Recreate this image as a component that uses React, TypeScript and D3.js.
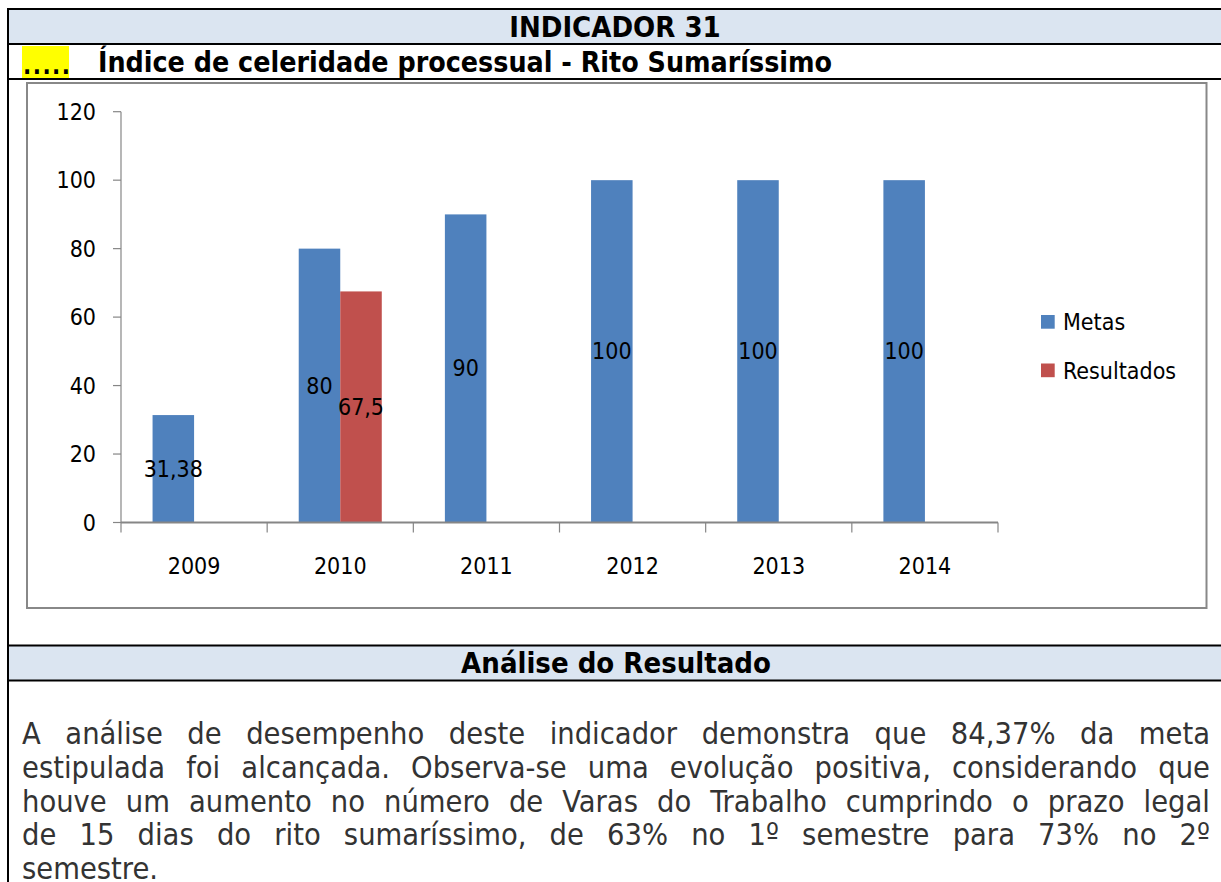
import React, { useMemo } from "react";
import * as d3 from "d3";

const years = ["2009", "2010", "2011", "2012", "2013", "2014"];
const seriesNames = ["Metas", "Resultados"];
const metas: (number | null)[] = [31.38, 80, 90, 100, 100, 100];
const resultados: (number | null)[] = [null, 67.5, null, null, null, null];
const yTicks = [0, 20, 40, 60, 80, 100, 120];
const seriesColors = ["#4F81BD", "#C0504D"];

const headerTitle = "INDICADOR 31";
const subtitle = "Índice de celeridade processual - Rito Sumaríssimo";
const sectionTitle = "Análise do Resultado";
const paragraphLines = [
  "A análise de desempenho deste indicador demonstra que 84,37% da meta",
  "estipulada foi alcançada. Observa-se uma evolução positiva, considerando que",
  "houve um aumento no número de Varas do Trabalho cumprindo o prazo legal",
  "de 15 dias do rito sumaríssimo, de 63% no 1º semestre para 73% no 2º",
  "semestre.",
];

const FONT = "'DejaVu Sans Condensed', 'DejaVu Sans', sans-serif";

const fmt = (v: number) => String(v).replace(".", ",");

export default function App() {
  const W = 1221;
  const H = 882;

  // chart geometry
  const plotLeft = 121;
  const plotRight = 998;
  const plotTop = 111.7;
  const plotBottom = 522.5;

  const x0 = d3.scaleBand<string>().domain(years).range([plotLeft, plotRight]).paddingInner(0).paddingOuter(0);
  const x1 = d3
    .scaleBand<string>()
    .domain(seriesNames)
    .range([0, x0.bandwidth()])
    .paddingInner(0)
    .paddingOuter(0.76);
  const y = d3.scaleLinear().domain([0, 120]).range([plotBottom, plotTop]);

  const seriesValues = [metas, resultados];

  const paraFontSize = 30.5;
  const paraLeft = 22;
  const paraRight = 1210;
  const paraBaseline0 = 744;
  const paraLineH = 33.8;

  const lines = useMemo(() => {
    const canvas = document.createElement("canvas");
    const ctx = canvas.getContext("2d")!;
    ctx.font = `${paraFontSize}px ${FONT}`;
    const spaceW = ctx.measureText(" ").width;
    return paragraphLines.map((line, li) => {
      const words = line.split(" ");
      const widths = words.map((w) => ctx.measureText(w).width);
      const total = widths.reduce((a, b) => a + b, 0);
      const last = li === paragraphLines.length - 1;
      const gap = last || words.length < 2 ? spaceW : (paraRight - paraLeft - total) / (words.length - 1);
      let cx = paraLeft;
      return words.map((w, i) => {
        const pos = { word: w, x: cx };
        cx += widths[i] + gap;
        return pos;
      });
    });
  }, []);

  return (
    <svg
      width={W}
      height={H}
      style={{ position: "absolute", left: 0, top: 0, display: "block", background: "#fff" }}
      fontFamily={FONT}
    >
      <rect x={0} y={0} width={W} height={H} fill="#fff" />
      {/* header rows */}
      <rect x={9} y={10} width={W - 9} height={33} fill="#DBE5F1" />
      <rect x={9} y={646} width={W - 9} height={34} fill="#DBE5F1" />
      <rect x={22} y={46} width={47} height={32} fill="#FFFF00" />
      <text x={23} y={74} fontSize={24} fontWeight="bold" letterSpacing={1.5} fill="#000">.....</text>

      {/* table lines */}
      <line x1={8} y1={9} x2={W} y2={9} stroke="#000" strokeWidth={2} />
      <line x1={8} y1={44} x2={W} y2={44} stroke="#000" strokeWidth={2} />
      <line x1={8} y1={79} x2={W} y2={79} stroke="#000" strokeWidth={2} />
      <line x1={8} y1={645.5} x2={W} y2={645.5} stroke="#000" strokeWidth={2} />
      <line x1={8} y1={680.5} x2={W} y2={680.5} stroke="#000" strokeWidth={2} />
      <line x1={8} y1={8} x2={8} y2={H} stroke="#000" strokeWidth={2} />

      <text x={615} y={37} textAnchor="middle" fontSize={29} fontWeight="bold" fill="#000">{headerTitle}</text>
      <text x={98} y={72} fontSize={28.3} fontWeight="bold" fill="#000">{subtitle}</text>
      <text x={616} y={673} textAnchor="middle" fontSize={29} fontWeight="bold" fill="#000">{sectionTitle}</text>

      {/* chart frame */}
      <rect x={27} y={83} width={1179.5} height={525} fill="#fff" stroke="#888" strokeWidth={2} />

      {/* bars */}
      {seriesValues.map((vals, si) =>
        vals.map((v, i) =>
          v == null ? null : (
            <rect
              key={`b-${si}-${i}`}
              x={x0(years[i])! + x1(seriesNames[si])!}
              y={y(v)}
              width={x1.bandwidth()}
              height={y(0) - y(v)}
              fill={seriesColors[si]}
            />
          )
        )
      )}

      {/* y axis */}
      <line x1={plotLeft} y1={plotTop} x2={plotLeft} y2={plotBottom} stroke="#868686" strokeWidth={1.2} />
      {yTicks.map((t) => (
        <g key={`yt-${t}`}>
          <line x1={plotLeft - 8} y1={y(t)} x2={plotLeft} y2={y(t)} stroke="#868686" strokeWidth={1.2} />
          <text x={96} y={y(t)} textAnchor="end" dominantBaseline="central" fontSize={23} fill="#000">
            {t}
          </text>
        </g>
      ))}

      {/* x axis */}
      <line x1={plotLeft} y1={plotBottom} x2={plotRight} y2={plotBottom} stroke="#868686" strokeWidth={2} />
      {[...years.map((yr) => x0(yr)!), plotRight].map((xv, i) => (
        <line key={`xt-${i}`} x1={xv} y1={plotBottom} x2={xv} y2={plotBottom + 10} stroke="#868686" strokeWidth={1.2} />
      ))}
      {years.map((yr) => (
        <text
          key={`xl-${yr}`}
          x={x0(yr)! + x0.bandwidth() / 2}
          y={plotBottom + 43}
          textAnchor="middle"
          dominantBaseline="central"
          fontSize={23}
          fill="#000"
        >
          {yr}
        </text>
      ))}

      {/* data labels */}
      {seriesValues.map((vals, si) =>
        vals.map((v, i) =>
          v == null ? null : (
            <text
              key={`l-${si}-${i}`}
              x={x0(years[i])! + x1(seriesNames[si])! + x1.bandwidth() / 2}
              y={(y(v) + y(0)) / 2}
              textAnchor="middle"
              dominantBaseline="central"
              fontSize={23}
              fill="#000"
            >
              {fmt(v)}
            </text>
          )
        )
      )}

      {/* legend */}
      {seriesNames.map((s, i) => (
        <g key={`lg-${s}`}>
          <rect x={1041} y={315 + i * 48.5} width={13.7} height={13.7} fill={seriesColors[i]} />
          <text x={1063} y={322 + i * 48.5} dominantBaseline="central" fontSize={23} fill="#000">
            {s}
          </text>
        </g>
      ))}

      {/* paragraph */}
      {lines.map((ws, li) =>
        ws.map((w, wi) => (
          <text
            key={`p-${li}-${wi}`}
            x={w.x}
            y={paraBaseline0 + li * paraLineH}
            fontSize={paraFontSize}
            fill="#333"
          >
            {w.word}
          </text>
        ))
      )}
    </svg>
  );
}
